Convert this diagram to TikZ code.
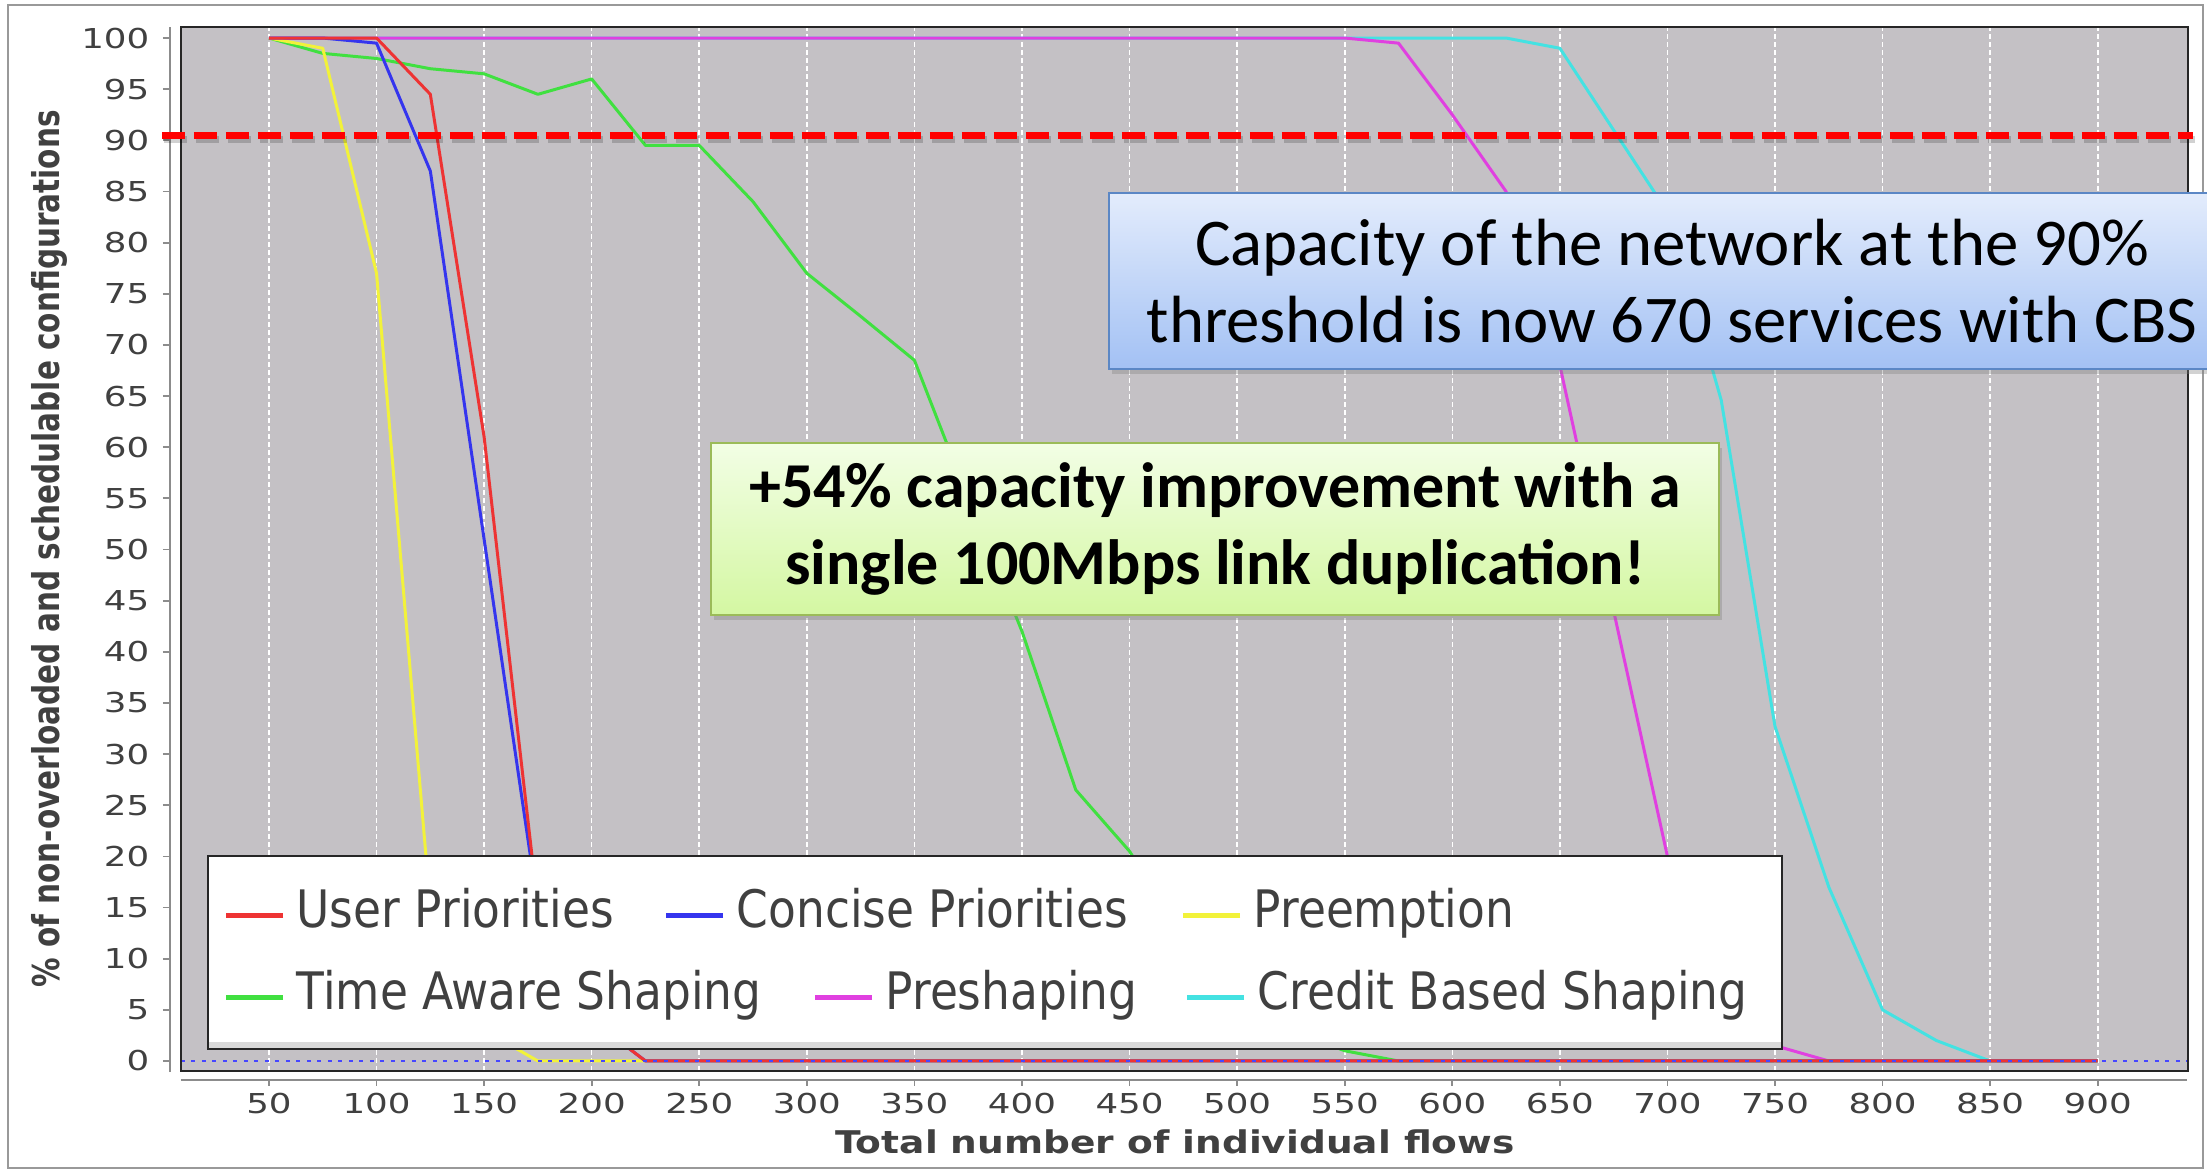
\documentclass[tikz,border=0pt]{standalone}
\usepackage{fontspec}
\usepackage{tikz}
\usetikzlibrary{calc, shadows}
\setmainfont{DejaVu Sans}
\newfontfamily\tickfont[FakeStretch=1.3]{DejaVu Sans}
\newfontfamily\axisfont[FakeStretch=1.2]{DejaVu Sans}
\newfontfamily\ylabfont[FakeStretch=0.8]{DejaVu Sans}
\newfontfamily\legfont[FakeStretch=0.88]{DejaVu Sans}
\newfontfamily\callfont{Carlito}

\definecolor{plotbg}{HTML}{C4C1C5}
\definecolor{cUser}{HTML}{EE3333}
\definecolor{cConcise}{HTML}{3535EE}
\definecolor{cPreempt}{HTML}{F2F23A}
\definecolor{cTas}{HTML}{40E040}
\definecolor{cPreshape}{HTML}{E040E0}
\definecolor{cCbs}{HTML}{44E2E2}
\definecolor{zeroblue}{HTML}{4646FF}
\definecolor{capfillA}{HTML}{E3ECFC}
\definecolor{capfillB}{HTML}{A3C1F4}
\definecolor{capedge}{HTML}{5B87C5}
\definecolor{gainfillA}{HTML}{F2FEE5}
\definecolor{gainfillB}{HTML}{D4F7A2}
\definecolor{gainedge}{HTML}{9BBB59}
\definecolor{labelgrey}{HTML}{404040}

\tikzset{
    curve/.style={line width=0.85pt, line join=round},
    gridline/.style={white, line width=0.45pt, dash pattern=on 0.05cm off 0.03cm},
    zeroline/.style={zeroblue, line width=0.45pt, dash pattern=on 0.04cm off 0.065cm},
    axisline/.style={black!45, line width=0.5pt},
    ticklabel/.style={inner sep=0, text=labelgrey, font=\tickfont\fontsize{7.8}{9}\selectfont},
    axislabel/.style={inner sep=0, text=labelgrey, font=\axisfont\bfseries\fontsize{8.9}{10}\selectfont},
    legendtext/.style={inner sep=0, text=labelgrey, font=\legfont\fontsize{14.7}{17}\selectfont},
    swatch/.style={line width=1.4pt},
    threshold/.style={red, line width=2pt, dash pattern=on 0.23cm off 0.09cm},
    capbox/.style={draw=capedge, line width=0.8pt, top color=capfillA, bottom color=capfillB,
        minimum width=11.26cm, minimum height=1.76cm, inner sep=0, align=center,
        font=\callfont\fontsize{19}{22}\selectfont,
        drop shadow={opacity=0.35, shadow xshift=0.03cm, shadow yshift=-0.05cm}},
    gainbox/.style={draw=gainedge, line width=0.8pt, top color=gainfillA, bottom color=gainfillB,
        minimum width=10.08cm, minimum height=1.72cm, inner sep=0, align=center,
        font=\callfont\bfseries\fontsize{18.2}{21.9}\selectfont,
        drop shadow={opacity=0.35, shadow xshift=0.03cm, shadow yshift=-0.05cm}}
}

% #1 node name, #2 colour, #3 base of the text, #4 text
\newcommand{\legendentry}[4]{
    \node[legendtext, anchor=base west] (#1) at #3 {#4};
    \draw[swatch, #2] ($(#1.base west)+(-0.13,0.125)$) -- ++(-0.57,0);
}

\begin{document}
\begin{tikzpicture}
    \useasboundingbox (0,0) rectangle (22.07,11.72);
    \clip (0,0) rectangle (22.07,11.72);
    \fill[white] (0,0) rectangle (22.07,11.72);
    \draw[black!40, line width=0.6pt] (0.08,0.04) rectangle (22.03,11.67);

    % plot area
    \fill[plotbg] (1.81,1.01) rectangle (21.88,11.45);

    \begin{scope}[shift={(1.614,1.11)}, x=0.02152cm, y=0.1023cm]
        \foreach \x in {50,100,...,900}
            \draw[gridline] (\x,-1) -- (\x,101.1);

        \draw[curve, cCbs] plot coordinates {(50,100) (625,100) (650,99) (675,91) (700,83)
            (725,64.6) (750,32.7) (775,17) (800,5) (825,2) (850,0) (900,0)};
        \draw[curve, cPreshape] plot coordinates {(50,100) (550,100) (575,99.5) (600,92.5)
            (625,85) (650,68) (675,44) (700,20) (725,7) (750,1.5) (775,0) (900,0)};
        \draw[curve, cTas] plot coordinates {(50,100) (75,98.5) (100,98) (125,97) (150,96.5)
            (175,94.5) (200,96) (225,89.5) (250,89.5) (275,84) (300,77) (325,72.8) (350,68.5)
            (375,55) (400,42) (425,26.5) (450,20.5) (475,12) (500,6) (525,3) (550,1)
            (575,0) (900,0)};
        \draw[curve, cPreempt] plot coordinates {(50,100) (75,99) (100,77) (125,15) (150,3)
            (175,0) (900,0)};
        \draw[curve, cConcise] plot coordinates {(50,100) (75,100) (100,99.5) (125,87)
            (150,51) (175,15) (200,4) (225,0) (900,0)};
        \draw[curve, cUser] plot coordinates {(50,100) (75,100) (100,100) (125,94.5)
            (150,61) (175,15) (200,4) (225,0) (900,0)};

        \draw[zeroline] (9.1,0) -- (941.7,0);

        % axes
        \draw[axisline] (4,-1.1) -- (4,101.1);
        \draw[axisline] (9.1,-1.86) -- (941.7,-1.86);
        \foreach \y in {0,5,...,100} {
            \draw[axisline] (0.74,\y) -- (4,\y);
            \node[ticklabel, anchor=east] (ytick\y) at (-5.3,\y) {\y};
        }
        \foreach \x in {50,100,...,900} {
            \draw[axisline] (\x,-1.86) -- (\x,-2.44);
            \node[ticklabel] (xtick\x) at (\x,-4.2) {\x};
        }
    \end{scope}

    \draw[black!85, line width=0.7pt] (1.81,1.01) rectangle (21.88,11.45);

    % legend
    \fill[white] (2.08,1.23) rectangle (17.82,3.16);
    \fill[black!15] (2.08,1.23) rectangle (17.82,1.30);
    \draw[black!85, line width=0.6pt] (2.08,1.23) rectangle (17.82,3.16);
    \legendentry{lgUser}{cUser}{(2.96,2.44)}{User Priorities}
    \legendentry{lgConcise}{cConcise}{(7.36,2.44)}{Concise Priorities}
    \legendentry{lgPreempt}{cPreempt}{(12.53,2.44)}{Preemption}
    \legendentry{lgTas}{cTas}{(2.96,1.62)}{Time Aware Shaping}
    \legendentry{lgPreshape}{cPreshape}{(8.85,1.62)}{Preshaping}
    \legendentry{lgCbs}{cCbs}{(12.57,1.62)}{Credit Based Shaping}

    \node[axislabel] (xlab) at (11.75,0.30) {Total number of individual flows};
    \node[axislabel, font=\ylabfont\bfseries\fontsize{10.5}{12}\selectfont, rotate=90] (ylab)
        at (0.49,6.23) {\% of non-overloaded and schedulable configurations};

    % 90% threshold
    \draw[threshold, black, opacity=0.18] (1.64,10.32) -- (21.95,10.32);
    \draw[threshold] (1.62,10.36) -- (21.93,10.36);

    % callouts
    \node[capbox] (capnote) at (16.72,8.91)
        {Capacity of the network at the 90\%\\threshold is now 670 services with CBS};
    \node[gainbox] (gainnote) at (12.15,6.43)
        {+54\% capacity improvement with a\\single 100Mbps link duplication!};
\end{tikzpicture}
\end{document}
